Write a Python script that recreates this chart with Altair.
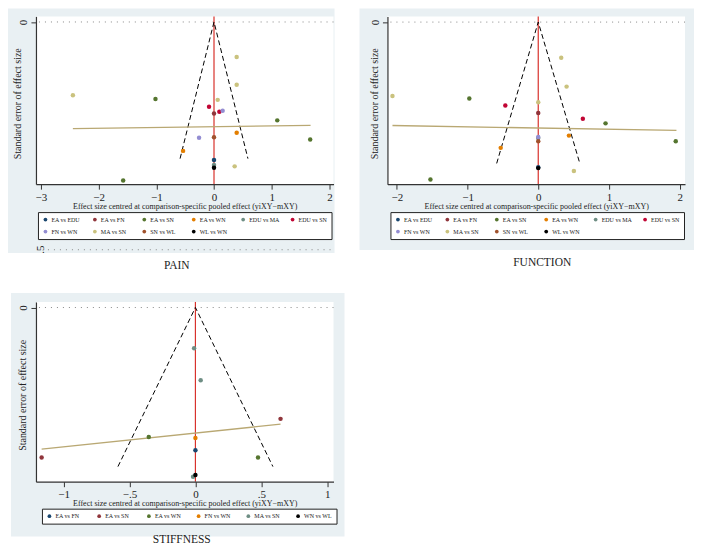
import altair as alt
import pandas as pd

FONT = "Liberation Serif"
BG = "#e9f0f3"
INK = "#222222"
W = 298
H_TOP = 168
H_BOT = 180

XTITLE = "Effect size centred at comparison-specific pooled effect (yiXY\u2212mXY)"
YTITLE = "Standard error of effect size"

colors10 = ["#1a476f", "#90353b", "#55752f", "#e37e00", "#6e8e84",
            "#c10534", "#938dd2", "#cac27e", "#a0522d", "#000000"]

pain_categories = ["EA vs EDU", "EA vs FN", "EA vs SN", "EA vs WN", "EDU vs MA",
                   "EDU vs SN", "FN vs WN", "MA vs SN", "SN vs WL", "WL vs WN"]
pain_comparison = ["MA vs SN", "MA vs SN", "MA vs SN", "EA vs SN", "MA vs SN",
                   "EDU vs SN", "EDU vs SN", "FN vs WN", "EA vs FN", "EA vs SN",
                   "EA vs WN", "FN vs WN", "SN vs WL", "EA vs SN", "EA vs WN",
                   "EA vs EDU", "EDU vs MA", "MA vs SN", "EA vs SN", "WL vs WN"]
pain_effect = [0.393, 0.393, -2.445, -1.014, 0.064,
               -0.086, 0.093, 0.150, 0.0, 1.096,
               0.393, -0.259, 0.0, 1.667, -0.536,
               0.0, 0.0, 0.358, -1.574, 0.0]
pain_se = [0.077, 0.138, 0.161, 0.169, 0.171,
           0.186, 0.197, 0.195, 0.201, 0.216,
           0.243, 0.254, 0.253, 0.258, 0.283,
           0.303, 0.314, 0.317, 0.348, 0.320]
pain_reg_x = [-2.445, 1.673]
pain_reg_se = [0.234, 0.227]
pain_funnel_x = [-0.588, 0.0, 0.588]
pain_funnel_se = [0.30, 0.0, 0.30]
pain_xticks = [-3, -2, -1, 0, 1, 2]
pain_xdomain = [-3.085, 2.071]
pain_ydomain = [-0.0123, 0.356]
pain_yticks_hidden = [0.5]

func_categories = pain_categories
func_comparison = ["MA vs SN", "MA vs SN", "MA vs SN", "EA vs SN", "MA vs SN",
                   "EDU vs SN", "EA vs FN", "EDU vs SN", "EA vs SN", "EA vs WN",
                   "EDU vs MA", "SN vs WL", "FN vs WN", "EA vs SN", "EA vs WN",
                   "EA vs EDU", "MA vs SN", "EA vs SN", "WL vs WN"]
func_effect = [0.325, 0.401, -2.062, -0.975, 0.0,
               -0.466, 0.0, 0.631, 0.952, 0.434,
               0.0, 0.0, 0.0, 1.945, -0.531,
               0.0, 0.504, -1.525, 0.0]
func_se = [0.0755, 0.137, 0.157, 0.162, 0.170,
           0.177, 0.193, 0.205, 0.215, 0.241,
           0.246, 0.253, 0.244, 0.253, 0.267,
           0.308, 0.316, 0.334, 0.310]
func_reg_x = [-2.062, 1.955]
func_reg_se = [0.2195, 0.230]
func_funnel_x = [-0.588, 0.0, 0.588]
func_funnel_se = [0.30, 0.0, 0.30]
func_xticks = [-2, -1, 0, 1, 2]
func_xdomain = [-2.133, 2.076]
func_ydomain = [-0.0121, 0.344]

stiff_categories = ["EA vs FN", "EA vs SN", "EA vs WN", "FN vs WN", "MA vs SN", "WN vs WL"]
stiff_colors = ["#1a476f", "#90353b", "#55752f", "#e37e00", "#6e8e84", "#000000"]
stiff_comparison = ["MA vs SN", "MA vs SN", "EA vs SN", "EA vs WN", "FN vs WN",
                    "EA vs FN", "EA vs SN", "EA vs WN", "MA vs SN", "WN vs WL"]
stiff_effect = [-0.010, 0.040, 0.646, -0.354, 0.0,
                0.0, -1.167, 0.475, -0.018, 0.0]
stiff_se = [0.077, 0.137, 0.210, 0.244, 0.246,
            0.269, 0.283, 0.283, 0.319, 0.316]
stiff_reg_x = [-1.167, 0.646]
stiff_reg_se = [0.267, 0.220]
stiff_funnel_x = [-0.588, 0.0, 0.588]
stiff_funnel_se = [0.30, 0.0, 0.30]
stiff_xticks = [-1, -0.5, 0, 0.5, 1]
stiff_xdomain = [-1.210, 1.048]
stiff_ydomain = [-0.0105, 0.3285]


def panel(name, cats, cols, comp, eff, se, reg_x, reg_se, fun_x, fun_se,
          xdom, ydom, xticks, H, legend_xy, legend_colpad, ytitle_x, bg_box, caption_xy,
          hidden_ticks=None):
    xs = alt.Scale(domain=xdom, nice=False, zero=False)
    ys = alt.Scale(domain=ydom, nice=False, zero=False, reverse=True)
    one = pd.DataFrame({"k": [0]})

    bg = alt.Chart(one).mark_rect(color=BG).encode(
        x=alt.value(bg_box[0]), x2=alt.value(bg_box[1]),
        y=alt.value(bg_box[2]), y2=alt.value(bg_box[3]))
    white = alt.Chart(one).mark_rect(color="white").encode(
        x=alt.value(0), x2=alt.value(W), y=alt.value(0), y2=alt.value(H))

    zero_line = alt.Chart(pd.DataFrame({"se": [0.0]})).mark_rule(
        color="#888888", strokeDash=[1, 5], strokeWidth=1).encode(
        y=alt.Y("se:Q", scale=ys))

    red = alt.Chart(pd.DataFrame({"effect": [0.0]})).mark_rule(
        color="#d8322c", strokeWidth=1.2).encode(
        x=alt.X("effect:Q", scale=xs))

    fdf = pd.DataFrame({"effect": fun_x, "se": fun_se, "o": list(range(len(fun_x)))})
    funnel = alt.Chart(fdf).mark_line(color="black", strokeDash=[5, 3], strokeWidth=1).encode(
        x=alt.X("effect:Q", scale=xs),
        y=alt.Y("se:Q", scale=ys),
        order="o:Q")

    rdf = pd.DataFrame({"effect": reg_x, "se": reg_se})
    reg = alt.Chart(rdf).mark_line(color="#b9a873", strokeWidth=1.3).encode(
        x=alt.X("effect:Q", scale=xs),
        y=alt.Y("se:Q", scale=ys))

    pdf = pd.DataFrame({"comparison": comp, "effect": eff, "se": se})
    xaxis = alt.Axis(values=xticks, format="~g", title=XTITLE, titleFont=FONT,
                     titleFontSize=8, titleFontWeight="normal", titleColor=INK,
                     titleY=22, titleBaseline="middle",
                     labelFont=FONT, labelFontSize=11, labelColor=INK, labelPadding=2,
                     labelFlush=False, labelOverlap=False,
                     labelExpr="replace(datum.label, '0.', '.')",
                     tickSize=5, tickColor="#333333", domainColor="#333333",
                     domainWidth=1.2, tickWidth=1, grid=False, zindex=1)
    yaxis = alt.Axis(values=[0], format="~g", title=YTITLE, titleFont=FONT,
                     titleFontSize=10, titleFontWeight="normal", titleColor=INK,
                     titleX=ytitle_x, titleY=H / 2 + 3, titleAngle=270,
                     titleAlign="center", titleBaseline="middle",
                     labelFont=FONT, labelFontSize=11, labelColor=INK, labelAngle=270,
                     labelAlign="center", labelBaseline="bottom", labelPadding=2,
                     labelFlush=False, tickSize=5, tickColor="#333333",
                     domainColor="#333333", domainWidth=1.2, grid=False, zindex=1)
    legend = alt.Legend(orient="none", legendX=legend_xy[0], legendY=legend_xy[1],
                        direction="horizontal", columns=6, title=None,
                        fillColor="white", strokeColor=INK, padding=4.5,
                        symbolType="circle", symbolSize=14, symbolStrokeWidth=0,
                        symbolOpacity=1,
                        labelFont=FONT, labelFontSize=6, labelColor=INK, labelOffset=3,
                        columnPadding=legend_colpad, rowPadding=6, gridAlign="all",
                        labelLimit=0)
    points = alt.Chart(pdf).mark_circle(size=20, opacity=1).encode(
        x=alt.X("effect:Q", scale=xs, axis=xaxis),
        y=alt.Y("se:Q", scale=ys, axis=yaxis),
        color=alt.Color("comparison:N", scale=alt.Scale(domain=cats, range=cols),
                        legend=legend))

    caption = alt.Chart(one).mark_text(text=name, font=FONT, fontSize=11.5, color=INK,
                                       align="center", baseline="middle").encode(
        x=alt.value(caption_xy[0]), y=alt.value(caption_xy[1]))

    layers = [bg, white, zero_line, red, funnel, reg]
    if hidden_ticks:
        hdf = pd.DataFrame({"se": hidden_ticks})
        layers.append(alt.Chart(hdf).mark_rule(color="#888888", strokeDash=[1, 5],
                                               strokeWidth=1).encode(
            y=alt.Y("se:Q", scale=ys), x=alt.value(12), x2=alt.value(W - 2)))
        layers.append(alt.Chart(hdf).mark_text(text=".5", font=FONT, fontSize=11,
                                               color=INK, angle=270,
                                               align="center", baseline="middle").encode(
            y=alt.Y("se:Q", scale=ys), x=alt.value(5)))
    layers += [points, caption]
    return alt.layer(*layers).properties(width=W, height=H)


pain = panel("PAIN", pain_categories, colors10, pain_comparison, pain_effect, pain_se,
             pain_reg_x, pain_reg_se, pain_funnel_x, pain_funnel_se,
             pain_xdomain, pain_ydomain, pain_xticks, H_TOP, (2, 196), 9.5, -18,
             (-28, 299, -8, 237), (141, 250), hidden_ticks=pain_yticks_hidden)
func = panel("FUNCTION", func_categories, colors10, func_comparison, func_effect, func_se,
             func_reg_x, func_reg_se, func_funnel_x, func_funnel_se,
             func_xdomain, func_ydomain, func_xticks, H_TOP, (3, 196), 9.5, -13,
             (-28, 307, -8, 234), (155, 247))
stiff = panel("STIFFNESS", stiff_categories, stiff_colors, stiff_comparison, stiff_effect,
              stiff_se, stiff_reg_x, stiff_reg_se, stiff_funnel_x, stiff_funnel_se,
              stiff_xdomain, stiff_ydomain, stiff_xticks, H_BOT, (6, 207), 12.8, -13,
              (-25, 309, -9, 235), (146, 238))

chart = alt.concat(pain, func, stiff, columns=2,
                   spacing={"row": 118, "column": 54}, bounds="flush").resolve_scale(
    x="independent", y="independent", color="independent").properties(
    padding=0, background="white").configure_view(stroke=None)

chart.save("out.html", embed_options={"renderer": "svg", "actions": False})
